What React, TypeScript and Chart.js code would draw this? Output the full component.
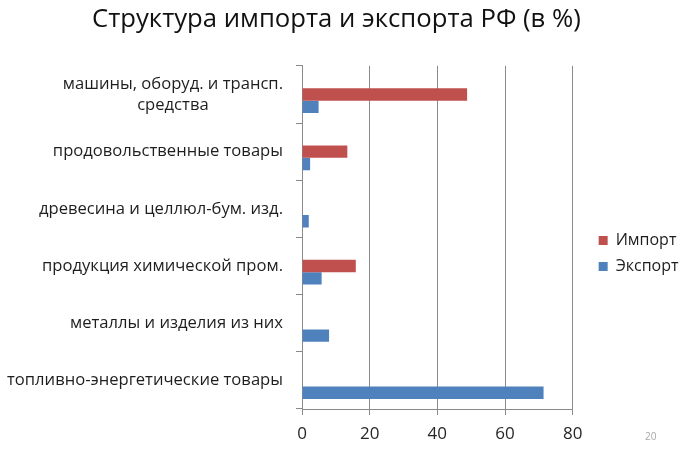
import React, { useEffect, useRef } from "react";
import { Chart, registerables } from "chart.js";

Chart.register(...registerables);

const categories: string[][] = [
  ["машины, оборуд. и трансп.", "средства"],
  ["продовольственные товары"],
  ["древесина и целлюл-бум. изд."],
  ["продукция химической пром."],
  ["металлы и изделия из них"],
  ["топливно-энергетические товары"],
];
const importValues = [48.8, 13.4, 0, 15.9, 0, 0];
const exportValues = [4.9, 2.4, 2.0, 5.8, 8.0, 71.4];
const spacerValues: (number | null)[] = [null, null, null, null, null, null];
const xTicks = [0, 20, 40, 60, 80];
const titleText = "Структура импорта и экспорта РФ (в %)";
const slideNumber = "20";

const FONT = "'Open Sans', sans-serif";
const PAD_LEFT = 92;

const catLabelPlugin = {
  id: "catLabels",
  afterDraw(chart: any) {
    const y = chart.scales.y;
    const ctx = chart.ctx;
    ctx.save();
    ctx.font = `16.6px ${FONT}`;
    ctx.fillStyle = "#1e1e1e";
    ctx.textBaseline = "middle";
    ctx.textAlign = "center";
    const right = y.right - 19;
    const lh = 21;
    categories.forEach((lines, i) => {
      const py = y.getPixelForValue(i);
      const w = Math.max(...lines.map((l) => ctx.measureText(l).width));
      lines.forEach((l, j) => {
        ctx.fillText(l, right - w / 2, py + (j - (lines.length - 1) / 2) * lh);
      });
    });
    ctx.font = `10px ${FONT}`;
    ctx.fillStyle = "#a8a8a8";
    ctx.textAlign = "left";
    ctx.fillText(slideNumber, 645, 437);
    ctx.restore();
  },
};

export default function App() {
  const ref = useRef<HTMLCanvasElement | null>(null);
  useEffect(() => {
    if (!ref.current) return;
    const chart = new Chart(ref.current, {
      type: "bar",
      data: {
        labels: categories.map((c) => c.join(" ")),
        datasets: [
          { label: "", data: spacerValues, backgroundColor: "rgba(0,0,0,0)" },
          { label: "Импорт", data: importValues, backgroundColor: "#C0504D" },
          { label: "Экспорт", data: exportValues, backgroundColor: "#4F81BD" },
        ],
      },
      options: {
        indexAxis: "y",
        animation: false,
        responsive: false,
        maintainAspectRatio: false,
        layout: { padding: { top: 2, right: 12, bottom: 1, left: PAD_LEFT } },
        datasets: { bar: { categoryPercentage: 0.65, barPercentage: 1 } },
        scales: {
          x: {
            min: 0,
            max: 80,
            afterBuildTicks: (s: any) => {
              s.ticks = xTicks.map((v) => ({ value: v }));
            },
            ticks: { font: { family: FONT, size: 17, lineHeight: 1 }, color: "#262626", padding: 11 },
            grid: { color: "#8a8a8a", lineWidth: 1, tickLength: 6, drawTicks: true },
            border: { color: "#8a8a8a" },
          },
          y: {
            ticks: { display: false },
            grid: { drawOnChartArea: false, color: "#8a8a8a", tickLength: 6, offset: true },
            border: { color: "#8a8a8a" },
            afterFit: (s: any) => {
              s.width = 302 - PAD_LEFT;
            },
          },
          gap: {
            type: "linear",
            position: "right",
            display: true,
            grid: { display: false },
            ticks: { display: false },
            border: { display: false },
            afterFit: (s: any) => {
              s.width = 16;
            },
          },
        },
        plugins: {
          title: {
            display: true,
            text: titleText,
            align: "start",
            font: { family: FONT, size: 25.7, weight: "normal" },
            color: "#111",
            padding: { top: 2, bottom: 31 },
          },
          legend: {
            position: "right",
            title: { display: true, text: " ", font: { size: 4 }, padding: { top: 46, bottom: 0 } },
            labels: {
              filter: (item: any) => item.text !== "",
              boxWidth: 9,
              boxHeight: 9,
              font: { family: FONT, size: 16 },
              color: "#1e1e1e",
              padding: 10,
            },
          },
          tooltip: { enabled: false },
        },
      },
      plugins: [catLabelPlugin],
    });
    return () => chart.destroy();
  }, []);
  return (
    <div style={{ position: "fixed", left: 0, top: 0, width: 700, height: 455, background: "#fff" }}>
      <canvas ref={ref} width={700} height={455} />
    </div>
  );
}
